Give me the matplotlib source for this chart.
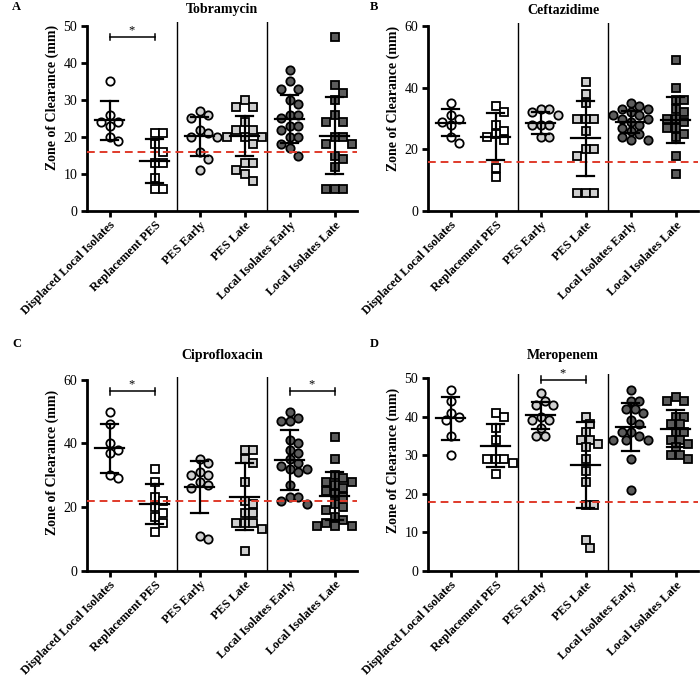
import numpy as np
import matplotlib
matplotlib.use("Agg")
import matplotlib.pyplot as plt

plt.rcParams['font.family'] = ['Liberation Serif', 'DejaVu Serif']

categories = ["Displaced Local Isolates", "Replacement PES", "PES Early",
              "PES Late", "Local Isolates Early", "Local Isolates Late"]

# ---------------- Tobramycin ----------------
tobra_displaced = [35, 26, 24, 24, 23, 19, 20]
tobra_replacement = [21, 21, 18, 16, 13, 13, 9, 6, 6]
tobra_pes_early = [26, 27, 25, 21, 22, 20, 20, 16, 14, 11]
tobra_pes_late = [30, 28, 28, 24, 22, 22, 20, 20, 20, 18, 13, 13, 11, 10, 8]
tobra_local_early = [38, 35, 33, 33, 30, 29, 26, 26, 25, 23, 23, 22, 20, 20, 18, 17, 15]
tobra_local_late = [47, 34, 32, 30, 26, 24, 24, 20, 20, 18, 18, 15, 14, 12, 6, 6, 6]
tobra_mean = [24.5, 13.6, 20.2, 20.3, 24.9, 20.4]
tobra_sd = [5.2, 5.9, 5.2, 5.4, 6.5, 10.4]
tobra_breakpoint = 16

# ---------------- Ceftazidime ----------------
ceft_displaced = [35, 31, 30, 29, 28, 24, 22]
ceft_replacement = [34, 32, 28, 26, 25, 24, 23, 14, 11]
ceft_pes_early = [33, 32, 33, 31, 28, 28, 28, 24, 24]
ceft_pes_late = [42, 38, 35, 30, 30, 30, 26, 20, 20, 18, 6, 6, 6]
ceft_local_early = [35, 34, 33, 33, 32, 31, 31, 30, 30, 29, 28, 27, 26, 25, 24, 23, 23]
ceft_local_late = [49, 40, 36, 36, 33, 32, 30, 30, 29, 27, 27, 25, 24, 18, 12]
ceft_mean = [28.6, 24.1, 28.6, 23.6, 29.0, 29.5]
ceft_sd = [4.4, 7.7, 3.5, 12.2, 3.6, 7.4]
ceft_breakpoint = 16

# ---------------- Ciprofloxacin ----------------
cipro_displaced = [50, 46, 40, 38, 37, 30, 29]
cipro_replacement = [32, 28, 23, 22, 20, 18, 17, 15, 12]
cipro_pes_early = [35, 34, 31, 30, 30, 28, 27, 26, 11, 10]
cipro_pes_late = [38, 38, 35, 34, 28, 22, 21, 18, 18, 15, 15, 15, 13, 6]
cipro_local_early = [50, 48, 47, 47, 41, 40, 38, 37, 35, 34, 33, 32, 32, 31, 27, 23, 23, 22, 21]
cipro_local_late = [42, 35, 30, 29, 28, 28, 27, 26, 25, 24, 23, 21, 20, 19, 17, 16, 15, 14, 14, 14, 14]
cipro_mean = [38.5, 20.9, 26.4, 23.2, 34.8, 23.5]
cipro_sd = [7.7, 6.3, 8.2, 10.6, 9.3, 7.5]
cipro_breakpoint = 22

# ---------------- Meropenem ----------------
mero_displaced = [47, 44, 41, 40, 39, 35, 30]
mero_replacement = [41, 40, 37, 34, 29, 29, 29, 28, 25]
mero_pes_early = [46, 44, 43, 43, 40, 39, 39, 37, 35, 35]
mero_pes_late = [40, 38, 36, 34, 34, 33, 32, 29, 26, 23, 17, 17, 8, 6]
mero_local_early = [47, 44, 44, 42, 42, 41, 39, 38, 36, 36, 35, 34, 34, 34, 29, 21]
mero_local_late = [45, 44, 44, 40, 40, 38, 38, 36, 36, 34, 34, 33, 32, 30, 30, 29]
mero_mean = [39.5, 32.5, 40.4, 27.5, 37.2, 36.9]
mero_sd = [5.6, 5.5, 3.5, 11.2, 6.2, 4.9]
mero_breakpoint = 18

panels = [
    dict(letter="A", title="Tobramycin",
         groups=[tobra_displaced, tobra_replacement, tobra_pes_early, tobra_pes_late,
                 tobra_local_early, tobra_local_late],
         mean=tobra_mean, sd=tobra_sd, bp=tobra_breakpoint,
         ylim=(0, 51), yticks=[0, 10, 20, 30, 40, 50],
         brackets=[(0, 1, 47)], box=(87, 357, 211, 188.7), label_y=0.60,
         title_y=10, letter_pos=(12, 7)),
    dict(letter="B", title="Ceftazidime",
         groups=[ceft_displaced, ceft_replacement, ceft_pes_early, ceft_pes_late,
                 ceft_local_early, ceft_local_late],
         mean=ceft_mean, sd=ceft_sd, bp=ceft_breakpoint,
         ylim=(0, 61), yticks=[0, 20, 40, 60],
         brackets=[], box=(428, 698, 211, 188.0), label_y=0.60,
         title_y=11, letter_pos=(370, 7)),
    dict(letter="C", title="Ciprofloxacin",
         groups=[cipro_displaced, cipro_replacement, cipro_pes_early, cipro_pes_late,
                 cipro_local_early, cipro_local_late],
         mean=cipro_mean, sd=cipro_sd, bp=cipro_breakpoint,
         ylim=(0, 61), yticks=[0, 20, 40, 60],
         brackets=[(0, 1, 56.5), (4, 5, 56.5)], box=(87, 357, 570.5, 193.7), label_y=0.56,
         title_y=355, letter_pos=(12, 344)),
    dict(letter="D", title="Meropenem",
         groups=[mero_displaced, mero_replacement, mero_pes_early, mero_pes_late,
                 mero_local_early, mero_local_late],
         mean=mero_mean, sd=mero_sd, bp=mero_breakpoint,
         ylim=(0, 51), yticks=[0, 10, 20, 30, 40, 50],
         brackets=[(2, 3, 49.5)], box=(428, 698, 571, 196.9), label_y=0.56,
         title_y=355, letter_pos=(370, 344)),
]

markers = ['o', 's', 'o', 's', 'o', 's']
faces = ['white', 'white', '#cfcfcf', '#cfcfcf', '#5c5c5c', '#5c5c5c']

W, H = 700, 676
fig = plt.figure(figsize=(W / 100, H / 100), dpi=100)


def swarm_x(ax, xc, vals, diam=8.6):
    pts = ax.transData.transform(np.column_stack([np.full(len(vals), xc), vals]))
    ys = pts[:, 1]
    x0 = pts[0, 0]
    x1 = ax.transData.transform((xc + 1, 0))[0]
    ppu = x1 - x0
    step = diam / 2.0
    cands = [0.0]
    for j in range(1, 30):
        cands += [j * step, -j * step]
    placed = []
    offs = np.zeros(len(vals))
    for i in np.argsort(-ys, kind='stable'):
        y = ys[i]
        for c in cands:
            if all((c - px) ** 2 + (y - py) ** 2 >= diam ** 2 for px, py in placed):
                break
        placed.append((c, y))
        offs[i] = c
    return xc + offs / ppu


for p in panels:
    left, right, bottom, hpx = p['box']
    ax = fig.add_axes([left / W, 1 - bottom / H, (right - left) / W, hpx / H])
    ax.set_xlim(-0.5, 5.5)
    ax.set_ylim(*p['ylim'])
    for s in ['top', 'right']:
        ax.spines[s].set_visible(False)
    for s in ['left', 'bottom']:
        ax.spines[s].set_linewidth(2.0)
    ax.spines['left'].set_bounds(p['ylim'][0], p['yticks'][-1])
    ax.set_yticks(p['yticks'])
    ax.set_xticks(range(len(categories)))
    ax.set_xticklabels(categories, rotation=45, ha='right', rotation_mode='anchor',
                       fontweight='bold', fontsize=8.8)
    ax.tick_params(axis='both', direction='out', length=4, width=2.0, pad=3)
    ax.tick_params(axis='x', pad=2)
    ax.tick_params(axis='y', labelsize=10)
    ax.set_ylabel("Zone of Clearance (mm)", fontweight='bold', fontsize=10)
    ax.yaxis.set_label_coords(-0.105, p['label_y'])

    for xs in (1.5, 3.5):
        ax.axvline(xs, color='black', lw=1.0, zorder=1)
    ax.axhline(p['bp'], color='#e03a2a', lw=1.4, ls=(0, (4, 2.5)), zorder=4)

    for i, vals in enumerate(p['groups']):
        xs = swarm_x(ax, i, vals)
        ax.plot(xs, vals, ls='none', marker=markers[i], ms=6, mfc=faces[i],
                mec='black', mew=1.3, zorder=3)
        m, s = p['mean'][i], p['sd'][i]
        ax.plot([i - 0.33, i + 0.33], [m, m], color='black', lw=1.6, zorder=5)
        ax.plot([i, i], [m - s, m + s], color='black', lw=1.6, zorder=5)
        for yv in (m - s, m + s):
            ax.plot([i - 0.18, i + 0.18], [yv, yv], color='black', lw=1.6, zorder=5)

    ytop = p['ylim'][1]
    for a, b, yb in p['brackets']:
        cap = ytop * 0.018
        ax.plot([a, b], [yb, yb], color='black', lw=1.1, zorder=5)
        ax.plot([a, a], [yb - cap, yb + cap], color='black', lw=1.1, zorder=5)
        ax.plot([b, b], [yb - cap, yb + cap], color='black', lw=1.1, zorder=5)
        ax.text((a + b) / 2, yb + cap * 0.2, "*", ha='center', va='bottom', fontsize=9)

    cx = (left + right) / 2
    fig.text(cx / W, 1 - p['title_y'] / H, p['title'], ha='center', va='center',
             fontweight='bold', fontsize=10)
    lx, ly = p['letter_pos']
    fig.text(lx / W, 1 - ly / H, p['letter'], fontweight='bold', fontsize=9,
             va='center', ha='left')

fig.savefig("out.png", dpi=100)
